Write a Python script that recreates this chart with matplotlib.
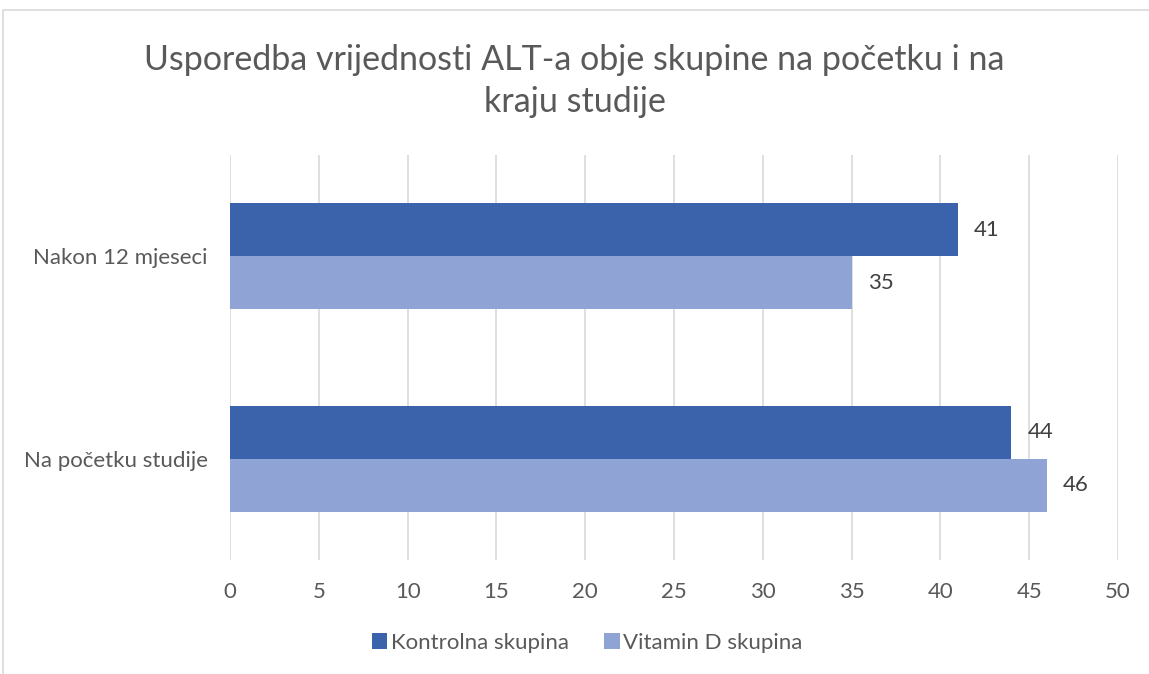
import matplotlib
matplotlib.use("Agg")
import matplotlib.pyplot as plt
from matplotlib.patches import Rectangle
import numpy as np

categories = ["Na početku studije", "Nakon 12 mjeseci"]
kontrolna = [44, 41]
vitamin_d = [46, 35]
series_names = ["Kontrolna skupina", "Vitamin D skupina"]
xticks = [0, 5, 10, 15, 20, 25, 30, 35, 40, 45, 50]
title = "Usporedba vrijednosti ALT-a obje skupine na početku i na\nkraju studije"

plt.rcParams['font.family'] = ['Lato', 'DejaVu Sans']

W, H = 1149, 674
fig = plt.figure(figsize=(W/100, H/100), dpi=100)
fig.patch.set_facecolor("white")

# outer border (top and left visible)
fig.add_artist(Rectangle((3/W, -0.1), 1.2, (H-10)/H + 0.1, transform=fig.transFigure,
                         fill=False, edgecolor="#d9d9d9", linewidth=1.2))

left, right, top, bottom = 230, 1118, 155, 560
ax = fig.add_axes([left/W, 1-bottom/H, (right-left)/W, (bottom-top)/H])

dark = "#3A63AB"
light = "#8FA4D5"
bh = 0.262
y = np.arange(len(categories))
ax.barh(y + bh/2, kontrolna, height=bh, color=dark, zorder=3, label=series_names[0])
ax.barh(y - bh/2, vitamin_d, height=bh, color=light, zorder=3, label=series_names[1])

for yi, v in zip(y + bh/2, kontrolna):
    ax.text(v + 0.9, yi, str(v), va="center", ha="left", fontsize=16, color="#404040")
for yi, v in zip(y - bh/2, vitamin_d):
    ax.text(v + 0.9, yi, str(v), va="center", ha="left", fontsize=16, color="#404040")

ax.set_xlim(0, 50)
ax.set_ylim(-0.5, 1.5)
ax.set_xticks(xticks)
ax.set_xticklabels([str(t) for t in xticks])
ax.set_yticks(y)
ax.set_yticklabels(categories)
ax.tick_params(axis="both", length=0, labelsize=16, labelcolor="#595959")
ax.tick_params(axis="x", pad=16)
ax.tick_params(axis="y", pad=16)
ax.grid(axis="x", color="#d9d9d9", linewidth=1.2, zorder=0)
for s in ax.spines.values():
    s.set_visible(False)

fig.text(0.5, 1 - 81/H, title, ha="center", va="center", fontsize=24.5,
         color="#595959", linespacing=1.4)

handles, labels = ax.get_legend_handles_labels()
leg = fig.legend(handles, labels, loc="center", bbox_to_anchor=(587/W, 1 - 643/H),
                 ncol=2, frameon=False, fontsize=16, handlelength=0.7, handleheight=0.7,
                 handletextpad=0.15, columnspacing=1.6, labelcolor="#595959")

fig.savefig("out.png", dpi=100, facecolor="white")
